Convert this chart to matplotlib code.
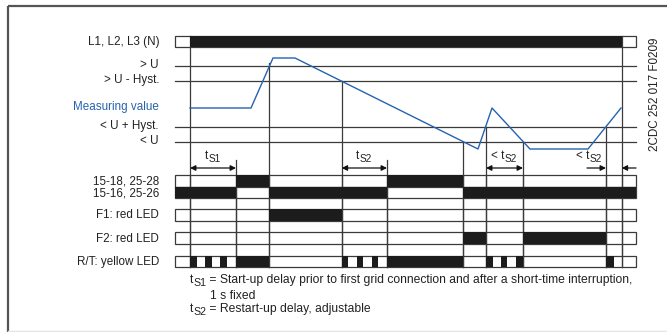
import matplotlib
matplotlib.use("Agg")
import matplotlib.pyplot as plt
from matplotlib.patches import Rectangle

plt.rcParams['font.family'] = ['Liberation Sans', 'DejaVu Sans']

# ---------------- data (time axis in diagram units) ----------------
t_start, t_end = 175, 636
power_on, power_off = 190, 621.7
ts1_end = 236
over_u = 269
hyst_back = 341.7
ts2_end = 387
under_u = 463
recov1 = 486
under2 = 523
recov2 = 606

level_names = ["> U", "> U - Hyst.", "< U + Hyst.", "< U"]
level_vals = [66, 81, 127, 142]

mv_t = [190, 251, 273, 295, 478, 492, 530, 588, 621]
mv_v = [108, 108, 58, 58, 149, 108, 149, 149, 108]

supply_on = [(power_on, power_off)]
r1518_on = [(ts1_end, over_u), (ts2_end, under_u)]
r1516_on = [(t_start, ts1_end), (over_u, ts2_end), (under_u, t_end)]
f1_on = [(over_u, hyst_back)]
f2_on = [(under_u, recov1), (under2, recov2)]
rt_on = [(190, 197), (205, 212), (220, 227), (ts1_end, over_u),
         (341.7, 348), (356.7, 363), (371.7, 378), (ts2_end, under_u),
         (486, 493), (500.7, 507), (515.7, 523), (recov2, 614)]

row_labels = ["15-18, 25-28", "15-16, 25-26", "F1: red LED", "F2: red LED", "R/T: yellow LED"]

# ---------------- drawing ----------------
LC = '#3a3a3a'
FILL = '#1c1c1c'
BLUE = '#2563b0'
TC = '#222222'
FS = 8.4
FN = 8.75

fig = plt.figure(figsize=(6.67, 3.32), dpi=100)
ax = fig.add_axes([0, 0, 1, 1])
ax.set_xlim(0, 667)
ax.set_ylim(332, 0)
ax.axis('off')
renderer = fig.canvas.get_renderer()

def txt_width(s, fs):
    t = ax.text(0, 0, s, fontsize=fs)
    w = t.get_window_extent(renderer=renderer).width
    t.remove()
    return w

def sub_text(x, y, base, sub, rest, fs, ha='left', sub_fs=None, drop=3.2):
    sub_fs = sub_fs or fs * 0.86
    wb = txt_width(base, fs)
    ws = txt_width(sub, sub_fs)
    wr = txt_width(rest, fs) if rest else 0
    total = wb + ws + wr
    if ha == 'center':
        x = x - total / 2
    ax.text(x, y, base, ha='left', va='center', fontsize=fs, color=TC)
    ax.text(x + wb, y + drop, sub, ha='left', va='center', fontsize=sub_fs, color=TC)
    if rest:
        ax.text(x + wb + ws, y, rest, ha='left', va='center', fontsize=fs, color=TC)

# frame
ax.plot([8, 667], [6, 6], color='#555555', lw=1.6, solid_capstyle='butt')
ax.plot([8, 8], [6, 332], color='#555555', lw=1.6, solid_capstyle='butt')
ax.plot([8, 667], [330.5, 330.5], color='#e4e4e4', lw=1.0)

def row(top, bot, on_list, z=3):
    ax.add_patch(Rectangle((t_start, top), t_end - t_start, bot - top,
                           facecolor='white', edgecolor=LC, lw=0.9, zorder=z))
    for a, b in on_list:
        ax.add_patch(Rectangle((a, top), b - a, bot - top,
                               facecolor=FILL, edgecolor='none', zorder=z + 2))

# vertical event lines (x, start y)
vlines = [(power_on, 36), (ts1_end, 160), (over_u, 63), (hyst_back, 81),
          (ts2_end, 160), (under_u, 142), (recov1, 127), (under2, 142),
          (recov2, 127), (power_off, 36)]
for x, y0 in vlines:
    ax.plot([x, x], [y0, 266.7], color=LC, lw=0.9, zorder=4)

# supply row
row(36, 47, supply_on)
ax.text(159, 41.5, "L1, L2, L3 (N)", ha='right', va='center', fontsize=FS, color=TC)

# level lines
for name, v in zip(level_names, level_vals):
    ax.plot([t_start, t_end], [v, v], color=LC, lw=0.9, zorder=2)
    ax.text(159, v - 1, name, ha='right', va='center', fontsize=FS, color=TC)
ax.text(159, 107, "Measuring value", ha='right', va='center', fontsize=FS, color=BLUE)

# measuring value curve
ax.plot(mv_t, mv_v, color=BLUE, lw=1.0, zorder=6)

# relay / LED rows
rows_geom = [(175, 186.7), (186.7, 198.3), (209.3, 221), (232.3, 244), (255.7, 266.7)]
rows_on = [r1518_on, r1516_on, f1_on, f2_on, rt_on]
for (top, bot), on in zip(rows_geom, rows_on):
    row(top, bot, on)
label_y = [182, 194, 215.5, 238.5, 261.5]
for lab, y in zip(row_labels, label_y):
    ax.text(159, y, lab, ha='right', va='center', fontsize=FS, color=TC)

for x, y0 in vlines:
    ax.plot([x, x], [max(y0, 175), 266.7], color=LC, lw=0.9, zorder=4.5)

# arrows
ay = 168
def darrow(a, b):
    ax.annotate('', xy=(a, ay), xytext=(b, ay),
                arrowprops=dict(arrowstyle='<|-|>', color='#111111', lw=0.9,
                                mutation_scale=8, shrinkA=0, shrinkB=0), zorder=7)
def sarrow(frm, to):
    ax.annotate('', xy=(to, ay), xytext=(frm, ay),
                arrowprops=dict(arrowstyle='-|>', color='#111111', lw=0.9,
                                mutation_scale=8, shrinkA=0, shrinkB=0), zorder=7)
darrow(power_on, ts1_end)
darrow(hyst_back, ts2_end)
darrow(recov1, under2)
sarrow(587, recov2)
sarrow(t_end, power_off)

sub_text(213, 156, "t", "S1", "", FS, ha='center')
sub_text(364, 156, "t", "S2", "", FS, ha='center')
sub_text(504, 156, "< t", "S2", "", FS, ha='center')
sub_text(589, 156, "< t", "S2", "", FS, ha='center')

# reference code
ax.text(654.5, 94, "2CDC 252 017 F0209", rotation=90, ha='center', va='center',
        fontsize=FS, color=TC)

# footnotes
sub_text(190, 280, "t", "S1",
         " = Start-up delay prior to first grid connection and after a short-time interruption,",
         FN)
ax.text(210, 296, "1 s fixed", ha='left', va='center', fontsize=FN, color=TC)
sub_text(190, 309, "t", "S2", " = Restart-up delay, adjustable", FN)

fig.savefig("out.png", dpi=100)
